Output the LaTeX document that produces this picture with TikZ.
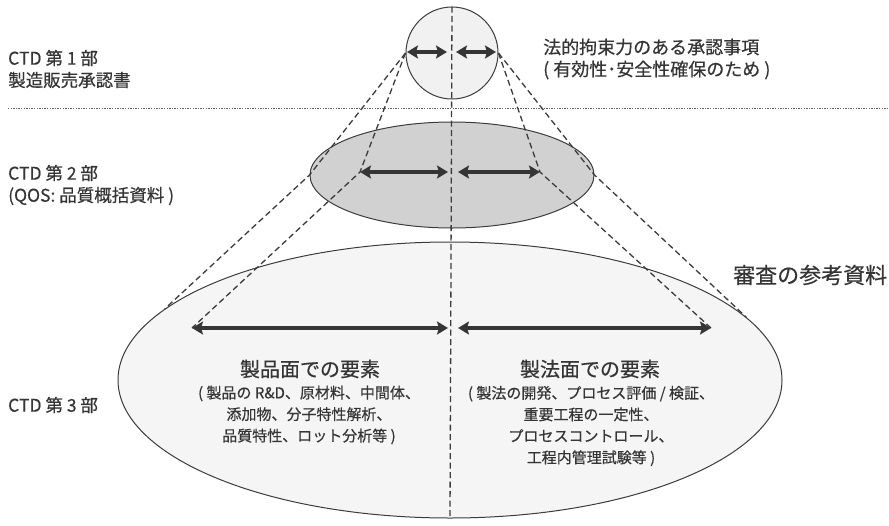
\documentclass[tikz,border=0pt]{standalone}
\usepackage{fontspec}
\setmainfont{Noto Sans CJK JP}[FakeBold=0.5]
\usetikzlibrary{shapes.geometric,arrows.meta}
\definecolor{ink}{HTML}{353535}
\definecolor{lineink}{HTML}{3C3C3C}
\tikzset{
  sheet/.style={draw=lineink,line width=1pt,inner sep=0pt},
  proj/.style={draw=lineink,line width=1.3pt,dash pattern=on 6pt off 3.5pt},
  sepline/.style={draw=lineink!80,line width=1pt,dash pattern=on 1.3pt off 1.3pt},
  dbl/.style={draw=ink,line width=3.4pt,{Stealth[length=11pt,width=13pt,inset=2pt]}-{Stealth[length=11pt,width=13pt,inset=2pt]}},
  lbl/.style={text=ink,inner sep=0pt,align=left,anchor=west,font=\fontsize{17.5}{22}\selectfont},
  body/.style={text=ink,inner sep=0pt,align=center,font=\fontsize{15}{21.5}\selectfont},
  head/.style={text=ink,inner sep=0pt,align=center,font=\fontsize{20}{24}\selectfont}
}
\begin{document}
\begin{tikzpicture}[x=1pt,y=-1pt]
\useasboundingbox (0,0) rectangle (889,525);
% shapes
\node[sheet,ellipse,fill=gray!8,minimum width=664pt,minimum height=276pt] (e3) at (450,380) {};
\node[sheet,ellipse,fill=gray!36,minimum width=284pt,minimum height=106pt] (e2) at (452,175) {};
\node[sheet,circle,fill=gray!11,minimum size=92pt] (c1) at (452,53) {};
% arrow end points
\coordinate (a1l) at (407,52);
\coordinate (a1m) at (447,52);
\coordinate (a1n) at (456,52);
\coordinate (a1r) at (496,52);
\coordinate (a2l) at (360,172);
\coordinate (a2m) at (448,172);
\coordinate (a2n) at (458,172);
\coordinate (a2r) at (540,172);
\coordinate (a3l) at (192,328);
\coordinate (a3m) at (448,328);
\coordinate (a3n) at (458,328);
\coordinate (a3r) at (711,328);
\coordinate (hl) at (8,108);
\coordinate (hr) at (889,108);
% separator
\draw[sepline] (hl) -- (hr);
% projection lines
\draw[proj] (c1.north) -- (e3.south);
\draw[proj] (c1.west) -- (e2.west) -- (e3.166);
\draw[proj] (c1.west) -- (a2l) -- (a3l);
\draw[proj] (c1.east) -- (e2.east) -- (e3.12);
\draw[proj] (c1.east) -- (a2r) -- (a3r);
% arrows
\draw[dbl] (a1l) -- (a1m);
\draw[dbl] (a1n) -- (a1r);
\draw[dbl] (a2l) -- (a2m);
\draw[dbl] (a2n) -- (a2r);
\draw[dbl] (a3l) -- (a3m);
\draw[dbl] (a3n) -- (a3r);
% labels
\node[lbl] (t1) at (8,69) {CTD 第 1 部\\製造販売承認書};
\node[lbl,font=\fontsize{18}{22}\selectfont] (t2) at (543,59) {法的拘束力のある承認事項\\( 有効性･安全性確保のため )};
\node[lbl] (t3) at (8,185) {CTD 第 2 部\\(QOS: 品質概括資料 )};
\node[lbl,font=\fontsize{22}{24}\selectfont] (t4) at (733,275) {審査の参考資料};
\node[lbl] (t5) at (8,405) {CTD 第 3 部};
\node[head] (t6) at (310,369) {製品面での要素};
\node[body] (t7) at (309,415) {( 製品の R\&D、原材料、中間体、\\添加物、分子特性解析、\\品質特性、ロット分析等 )};
\node[head] (t8) at (590,369) {製法面での要素};
\node[body] (t9) at (591,426) {( 製法の開発、プロセス評価 / 検証、\\重要工程の一定性、\\プロセスコントロール、\\工程内管理試験等 )};
\end{tikzpicture}
\end{document}
